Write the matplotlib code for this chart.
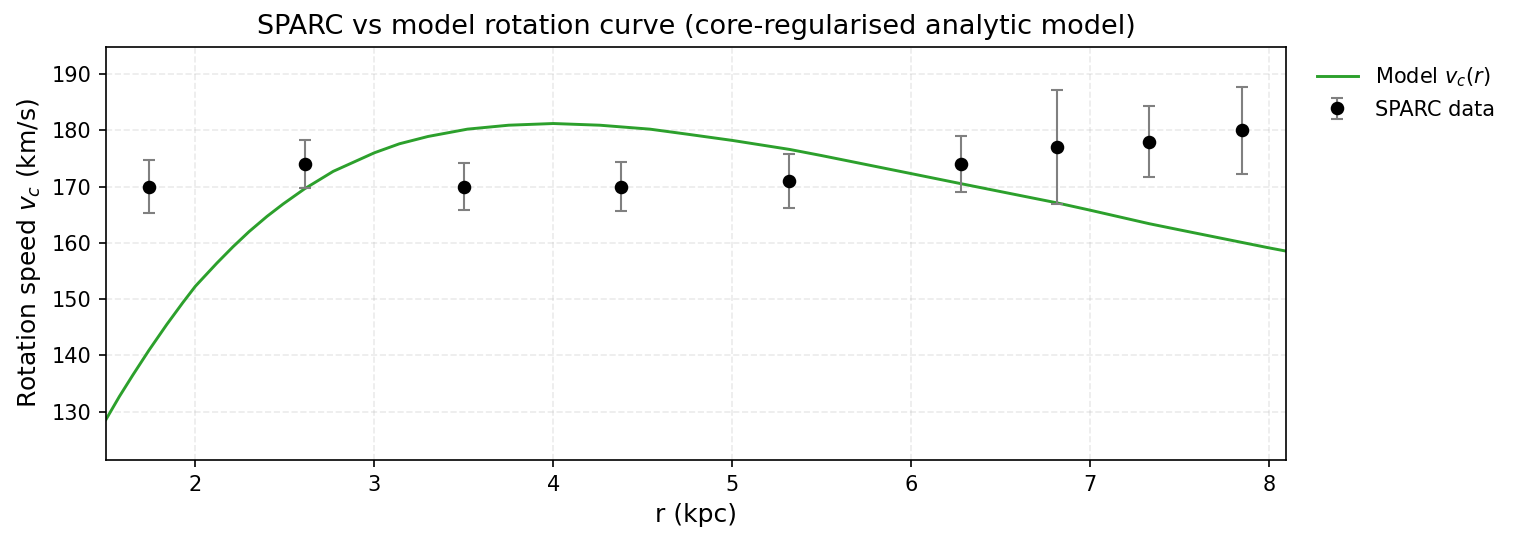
import numpy as np
import matplotlib
matplotlib.use('Agg')
from matplotlib import pyplot as plt

# SPARC observations
r_data = [1.74, 2.61, 3.50, 4.38, 5.32, 6.28, 6.815, 7.33, 7.85]
v_data = [170.0, 174.0, 170.0, 170.0, 171.0, 174.0, 177.0, 178.0, 180.0]
v_err = [4.7, 4.3, 4.2, 4.3, 4.8, 4.9, 10.1, 6.3, 7.7]

# model curve
r_model = [1.5, 1.575, 1.65, 1.74, 1.84, 1.93, 2.0, 2.12, 2.21, 2.3, 2.4, 2.49,
           2.61, 2.77, 3.0, 3.14, 3.3, 3.52, 3.75, 4.0, 4.26, 4.54, 4.75, 5.0,
           5.32, 5.5, 6.0, 6.28, 6.5, 6.815, 7.0, 7.33, 7.5, 8.0, 8.1]
v_model = [128.6, 132.7, 136.5, 140.9, 145.5, 149.4, 152.3, 156.4, 159.3, 162.0,
           164.7, 166.9, 169.6, 172.7, 176.0, 177.6, 178.9, 180.2, 180.9, 181.2,
           180.9, 180.2, 179.3, 178.2, 176.6, 175.5, 172.3, 170.5, 169.1, 167.1,
           165.8, 163.4, 162.3, 159.1, 158.5]

fig = plt.figure(figsize=(1517 / 150, 542 / 150), dpi=150)
ax = fig.add_axes([106 / 1517, 1 - 460 / 542, 1180 / 1517, 413 / 542])

ax.plot(r_model, v_model, color='#2ca02c', lw=1.4, label='Model $v_c(r)$')
ax.errorbar(r_data, v_data, yerr=v_err, fmt='o', color='black', ms=5.5,
            ecolor='gray', elinewidth=1, capsize=3, label='SPARC data')

ax.set_xlim(1.5, 8.095)
ax.set_ylim(121.4, 194.8)
ax.set_xlabel('r (kpc)', fontsize=12)
ax.set_ylabel('Rotation speed $v_c$ (km/s)', fontsize=12)
ax.set_title('SPARC vs model rotation curve (core-regularised analytic model)', fontsize=13)
ax.grid(True, ls='--', alpha=0.25)
ax.legend(loc='upper left', bbox_to_anchor=(1.01, 1.0), frameon=False)

fig.savefig('out.png', dpi=150)
